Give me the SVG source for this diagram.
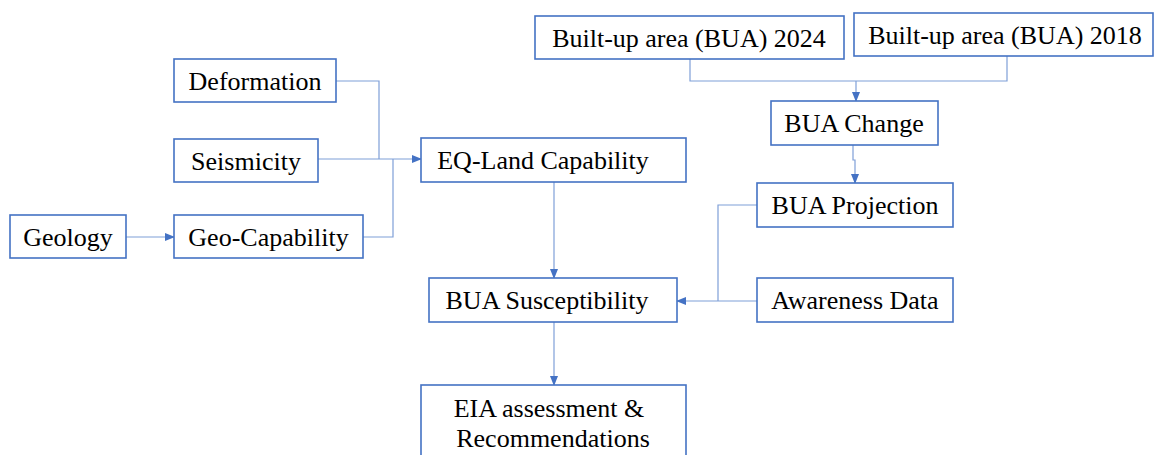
<svg xmlns="http://www.w3.org/2000/svg" width="1154" height="455" viewBox="0 0 1154 455">
<style>
.box{fill:#fff;stroke:#4472C4;stroke-width:1.6}
.t{font-family:"Liberation Serif",serif;font-size:26px;fill:#000;text-anchor:middle}
.c{fill:none;stroke:#7f9fd8;stroke-width:1.2}
</style>
<defs>
<marker id="ah" markerUnits="userSpaceOnUse" markerWidth="10" markerHeight="10" viewBox="0 0 10 10" refX="9" refY="5" orient="auto">
<path d="M0,1 L10,5 L0,9 Z" fill="#4472C4"/>
</marker>
</defs>
<rect width="1154" height="455" fill="#fff"/>
<g id="connectors">
<path class="c" d="M126 237 H174" marker-end="url(#ah)"/>
<path class="c" d="M336 81 H379 V159"/>
<path class="c" d="M318 159 H421" marker-end="url(#ah)"/>
<path class="c" d="M363 237 H393 V159"/>
<path class="c" d="M554 182 V278" marker-end="url(#ah)"/>
<path class="c" d="M554 322 V385" marker-end="url(#ah)"/>
<path class="c" d="M690 59 V81 H1007 V56"/>
<path class="c" d="M856 81 V101" marker-end="url(#ah)"/>
<path class="c" d="M853 145 V160 H855 V183" marker-end="url(#ah)"/>
<path class="c" d="M757 205 H718 V301"/>
<path class="c" d="M757 301 H677" marker-end="url(#ah)"/>
</g>
<g id="deformation"><rect class="box" x="174" y="59" width="162" height="43"/><text class="t" x="255" y="90">Deformation</text></g>
<g id="seismicity"><rect class="box" x="174" y="139" width="144" height="43"/><text class="t" x="246" y="170">Seismicity</text></g>
<g id="geology"><rect class="box" x="10" y="215" width="116" height="43"/><text class="t" x="68" y="246">Geology</text></g>
<g id="geo-capability"><rect class="box" x="174" y="215" width="189" height="43"/><text class="t" x="268.5" y="246">Geo-Capability</text></g>
<g id="eq-land"><rect class="box" x="421" y="138" width="265" height="44"/><text class="t" x="543" y="169">EQ-Land Capability</text></g>
<g id="bua-susceptibility"><rect class="box" x="429" y="278" width="248" height="44"/><text class="t" x="547" y="309">BUA Susceptibility</text></g>
<g id="eia"><rect class="box" x="421" y="385" width="265" height="80"/><text class="t" x="549" y="417">EIA assessment  &amp;</text><text class="t" x="553" y="447">Recommendations</text></g>
<g id="bua-2024"><rect class="box" x="535" y="16" width="309" height="43"/><text class="t" x="689" y="47">Built-up area (BUA) 2024</text></g>
<g id="bua-2018"><rect class="box" x="854" y="13" width="299" height="43"/><text class="t" x="1005" y="44">Built-up area (BUA) 2018</text></g>
<g id="bua-change"><rect class="box" x="771" y="101" width="167" height="44"/><text class="t" x="854" y="132">BUA Change</text></g>
<g id="bua-projection"><rect class="box" x="757" y="183" width="196" height="44"/><text class="t" x="855" y="214">BUA Projection</text></g>
<g id="awareness"><rect class="box" x="757" y="278" width="196" height="44"/><text class="t" x="855" y="309">Awareness Data</text></g>
</svg>
